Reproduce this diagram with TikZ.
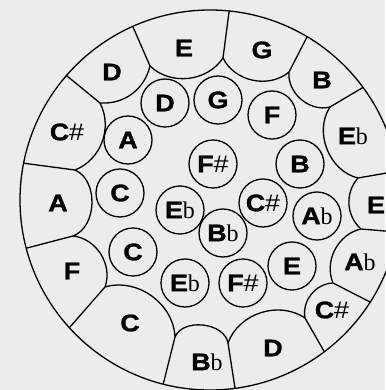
\documentclass[tikz,border=0pt]{standalone}
\usepackage{fontspec}
\setmainfont{Liberation Sans}[FakeStretch=1.12,BoldFeatures={FakeBold=1.3}]
\newfontfamily\flatfont{Liberation Serif}
\usetikzlibrary{calc}
\newcommand\fl{{\flatfont\mdseries b}}
\newcommand\shp{{\mdseries\#}}
\definecolor{bgc}{RGB}{236,236,236}
\begin{document}
\begin{tikzpicture}[x=1pt,y=-1pt,line width=1.3pt,
  ring/.style={circle,draw,minimum size=48pt,inner sep=0pt,font=\bfseries\fontsize{24}{26}\selectfont},
  lab/.style={inner sep=0pt,font=\bfseries\fontsize{24}{26}\selectfont}]
\useasboundingbox (0,0) rectangle (385,390);
\fill[bgc] (0,0) rectangle (385,390);
\node[circle,draw,minimum size=380pt,inner sep=0pt] (outer) at (210,200) {};
% junctions
\coordinate (j1) at (150,66);  \coordinate (o1) at (133,27);
\coordinate (j2) at (223,58);  \coordinate (o2) at (229,12);
\coordinate (j3) at (289,72);  \coordinate (o3) at (307,37);
\coordinate (j4) at (330,107); \coordinate (o4) at (362,88);
\coordinate (j5) at (358,178); \coordinate (o5) at (398,171);
\coordinate (j6) at (361,229); \coordinate (o6) at (397,232);
\coordinate (j7) at (333,283); \coordinate (o7) at (372,303);
\coordinate (j8) at (305,318); \coordinate (o8) at (325,353);
\coordinate (j9) at (228,343); \coordinate (o9) at (235,388);
\coordinate (j10) at (175,337); \coordinate (o10) at (163,385);
\coordinate (j11) at (105,287); \coordinate (o11) at (70,327);
\coordinate (j12) at (73,236); \coordinate (o12) at (27,248);
\coordinate (j13) at (75,170); \coordinate (o13) at (22,163);
\coordinate (j14) at (100,103); \coordinate (o14) at (67,76);
\begin{scope}
\clip (210,200) circle[radius=190pt];
\foreach \i in {1,...,14} \draw (j\i) -- ($(j\i)!1.3!(o\i)$);
\end{scope}
\draw[line join=round] (j1) to[bend right=50] (j2) to[bend right=52] (j3) to[bend right=55] (j4)
  to[bend right=55] (j5) to[bend right=45] (j6) to[bend right=50] (j7)
  to[bend right=49] (j8) to[bend right=52] (j9) to[bend right=74] (j10)
  to[bend right=52] (j11) to[bend right=52] (j12) to[bend right=68] (j13)
  to[bend right=48] (j14) to[bend right=40] (j1);
% outer labels
\node[lab] (lD1) at (112,72) {D};
\node[lab] (lE1) at (184,48) {E};
\node[lab] (lG1) at (262,50) {G};
\node[lab] (lB1) at (322,80) {B};
\node[lab] (lEb1) at (353,136) {E\fl};
\node[lab] (lE2) at (376,205) {E};
\node[lab] (lAb1) at (360,262) {A\fl};
\node[lab] (lCs1) at (332,310) {C\shp};
\node[lab] (lD2) at (273,348) {D};
\node[lab] (lBb1) at (207,362) {B\fl};
\node[lab] (lC1) at (130,323) {C};
\node[lab] (lF1) at (72,271) {F};
\node[lab] (lA1) at (58,203) {A};
\node[lab] (lCs2) at (67,132) {C\shp};
% inner circles
\node[ring] (cD) at (165,103) {D};
\node[ring] (cG) at (218,100) {G};
\node[ring] (cF) at (272,115) {F};
\node[ring] (cA) at (128,140) {A};
\node[ring] (cFs1) at (213,164) {F\shp};
\node[ring] (cB) at (300,164) {B};
\node[ring] (cC1) at (120,193) {C};
\node[ring] (cEb1) at (180,210) {E\fl};
\node[ring] (cCs) at (263,203) {C\shp};
\node[ring] (cAb) at (317,216) {A\fl};
\node[ring] (cBb) at (223,233) {B\fl};
\node[ring] (cC2) at (133,252) {C};
\node[ring] (cEb2) at (185,283) {E\fl};
\node[ring] (cFs2) at (243,283) {F\shp};
\node[ring] (cE) at (292,266) {E};
\end{tikzpicture}
\end{document}
